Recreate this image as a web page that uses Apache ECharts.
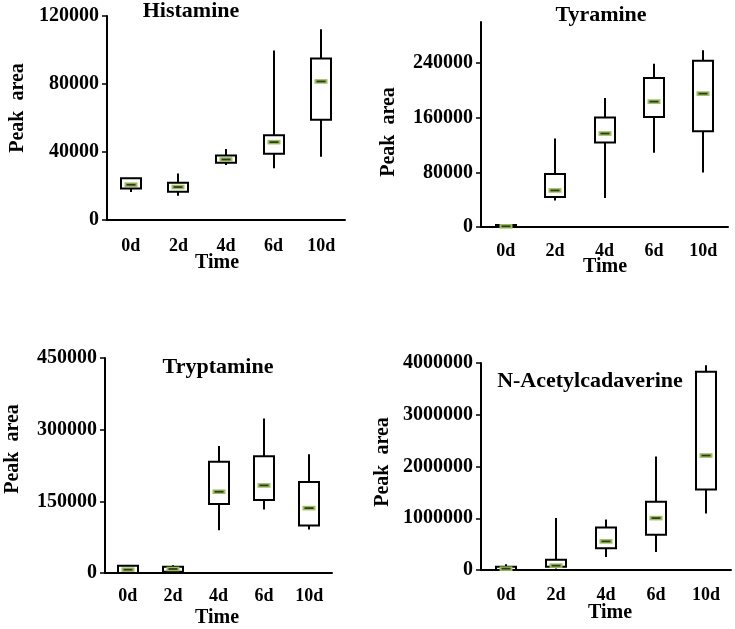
<!DOCTYPE html>
<html>
<head>
<meta charset="utf-8">
<script src="https://cdn.jsdelivr.net/npm/echarts@6/dist/echarts.min.js"></script>
<style>
html,body{margin:0;padding:0;background:#fff;}
#chart{width:735px;height:629px;}
</style>
</head>
<body>
<div id="chart"></div>
<script>
// ---- data ----
const categories = ['0d', '2d', '4d', '6d', '10d'];
// each row: [min, Q1, median, Q3, max]
const histamine = [
  [16400, 18600, 20750, 24500, 24500],
  [14300, 16650, 19400, 21900, 27400],
  [32300, 33700, 35600, 38000, 41700],
  [30500, 39000, 45800, 49900, 99700],
  [37200, 58900, 81500, 95000, 112200]
];
const tyramine = [
  [0, 300, 1000, 2900, 3500],
  [38900, 43800, 53500, 77400, 129500],
  [42400, 123600, 136800, 160200, 188900],
  [108600, 161100, 183500, 218100, 239000],
  [79800, 140200, 195200, 243400, 258500]
];
const tryptamine = [
  [0, 0, 7000, 15400, 15400],
  [1400, 2800, 8400, 13300, 16100],
  [89600, 144200, 170100, 233000, 265900],
  [133000, 152600, 183300, 244200, 323300],
  [91000, 99400, 135800, 190300, 248400]
];
const nAcetylcadaverine = [
  [0, 0, 26000, 64000, 109000],
  [30000, 64000, 84000, 199000, 1003000],
  [251000, 418000, 553000, 823000, 978000],
  [347000, 682000, 1003000, 1318000, 2193000],
  [1093000, 1556000, 2212000, 3833000, 3955000]
];
const histamineTicks = [0, 40000, 80000, 120000];
const tyramineTicks = [0, 80000, 160000, 240000];
const tyramineAxisMax = 300000;
const tryptamineTicks = [0, 150000, 300000, 450000];
const nAcetylcadaverineTicks = [0, 1000000, 2000000, 3000000, 4000000];
const titles = ['Histamine', 'Tyramine', 'Tryptamine', 'N-Acetylcadaverine'];
const yName = 'Peak  area';
const xName = 'Time';

// ---- layout ----
const FONT = '"Liberation Serif", "Times New Roman", serif';
const panels = [
  { data: histamine, ticks: histamineTicks, max: 120000, grid: {left: 107, top: 16, width: 238, height: 204}, labelMargin: 17,
    title: [191, 11], yname: [18, 108], xname: [217, 263] },
  { data: tyramine, ticks: tyramineTicks, max: tyramineAxisMax, grid: {left: 481, top: 22, width: 247, height: 205}, labelMargin: 15,
    title: [601, 15], yname: [389, 132], xname: [605, 267] },
  { data: tryptamine, ticks: tryptamineTicks, max: 450000, grid: {left: 105, top: 358, width: 227, height: 215}, labelMargin: 14,
    title: [218, 367], yname: [13, 449], xname: [217, 618] },
  { data: nAcetylcadaverine, ticks: nAcetylcadaverineTicks, max: 4000000, grid: {left: 481, top: 363, width: 250, height: 207}, labelMargin: 16,
    title: [590, 381], yname: [383, 462], xname: [610, 613] }
];

const BOX_W = 20;

function renderBox(params, api) {
  const i = api.value(0);
  const lo = api.coord([i, api.value(1)]);
  const q1 = api.coord([i, api.value(2)]);
  const med = api.coord([i, api.value(3)]);
  const q3 = api.coord([i, api.value(4)]);
  const hi = api.coord([i, api.value(5)]);
  const cx = Math.round(lo[0]);
  const lineStyle = { stroke: '#000', lineWidth: 2 };
  return {
    type: 'group',
    children: [
      { type: 'line', shape: { x1: cx, y1: hi[1], x2: cx, y2: q3[1] }, style: lineStyle },
      { type: 'line', shape: { x1: cx, y1: q1[1], x2: cx, y2: lo[1] }, style: lineStyle },
      { type: 'rect', shape: { x: cx - BOX_W / 2, y: q3[1], width: BOX_W, height: q1[1] - q3[1] },
        style: { fill: '#fff', stroke: '#000', lineWidth: 2 } },
      { type: 'rect', shape: { x: cx - 6.5, y: med[1] - 2.3, width: 13, height: 4.6 },
        style: { fill: '#9dbd5c' } },
      { type: 'line', shape: { x1: cx - 4.5, y1: med[1], x2: cx + 4.5, y2: med[1] },
        style: { stroke: '#2e3a22', lineWidth: 1.8 } }
    ]
  };
}

const option = {
  backgroundColor: '#fff',
  animation: false,
  grid: [], xAxis: [], yAxis: [], series: [], graphic: []
};

panels.forEach((p, k) => {
  option.grid.push(Object.assign({ containLabel: false }, p.grid));
  option.xAxis.push({
    type: 'category', gridIndex: k, data: categories,
    axisLine: { lineStyle: { color: '#000', width: 2 } },
    axisTick: { show: false },
    axisLabel: { color: '#000', fontFamily: FONT, fontWeight: 'bold', fontSize: 18, margin: p.labelMargin }
  });
  option.yAxis.push({
    type: 'value', gridIndex: k, min: 0, max: p.max,
    splitLine: { show: false },
    axisLine: { show: true, lineStyle: { color: '#000', width: 2 } },
    axisTick: { show: true, length: 5, lineStyle: { color: '#000', width: 1.5 }, customValues: p.ticks },
    axisLabel: { color: '#000', fontFamily: FONT, fontWeight: 'bold', fontSize: 20, margin: 8,
      customValues: p.ticks, formatter: v => String(v) }
  });
  option.series.push({
    type: 'custom', xAxisIndex: k, yAxisIndex: k,
    renderItem: renderBox,
    encode: { x: 0, y: [1, 2, 3, 4, 5] },
    data: p.data.map((d, i) => [i].concat(d)),
    clip: false
  });
  option.graphic.push(
    { type: 'text', x: p.title[0], y: p.title[1],
      style: { text: titles[k], font: 'bold 22px ' + FONT, fill: '#000', align: 'center', verticalAlign: 'middle' } },
    { type: 'text', x: p.yname[0], y: p.yname[1], rotation: Math.PI / 2,
      style: { text: yName, font: 'bold 20px ' + FONT, fill: '#000', align: 'center', verticalAlign: 'middle' } },
    { type: 'text', x: p.xname[0], y: p.xname[1],
      style: { text: xName, font: 'bold 20px ' + FONT, fill: '#000', align: 'center', verticalAlign: 'middle' } }
  );
});

const chart = echarts.init(document.getElementById('chart'), null, { renderer: 'canvas' });
chart.setOption(option);
</script>
</body>
</html>
